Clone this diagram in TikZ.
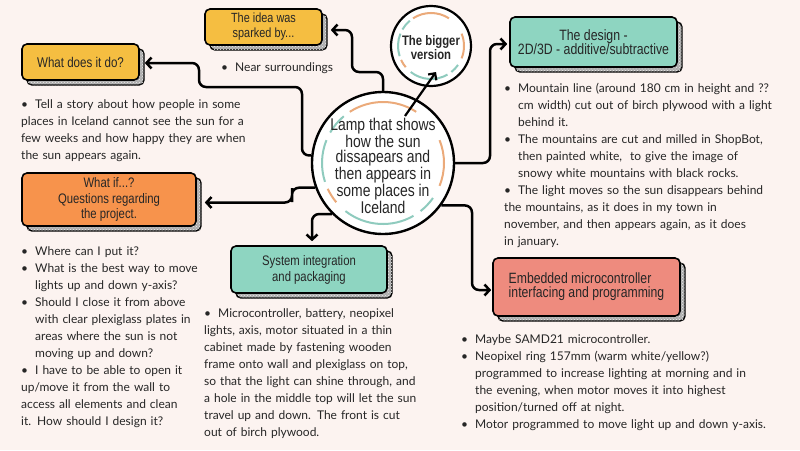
\documentclass[tikz,border=0pt]{standalone}
\usepackage{fontspec}
\setmainfont{Lato}
\newfontfamily\cond[FakeStretch=0.82]{Liberation Sans}
\usetikzlibrary{arrows.meta,calc,patterns}
\definecolor{bg}{HTML}{FCF3F0}
\definecolor{yel}{HTML}{F5BE41}
\definecolor{ora}{HTML}{F7934C}
\definecolor{tea}{HTML}{8ED5C1}
\definecolor{sal}{HTML}{EE8B7E}
\definecolor{txt}{HTML}{262626}
\definecolor{maroon}{HTML}{4A1515}
\definecolor{ringo}{HTML}{EBAA7A}
\definecolor{ringt}{HTML}{8FCBBE}
\newcommand\nl{\hfil\break}
\newcommand\bi{\par\hangindent=14pt\hangafter=1\noindent\makebox[14pt][l]{\textbullet}}
\newcommand\shadowedbox[8]{%
  \path[shadowbox] ({#2-#4/2+5},{#3-#5/2+5}) rectangle ++(#4,#5);
  \path[shadowpat] ({#2-#4/2+5},{#3-#5/2+5}) rectangle ++(#4,#5);
  \node[boxnode,fill=#6,minimum width=#4pt,minimum height=#5pt,font=#7] (#1) at (#2,#3) {#8};}
\newcommand\ringarcs[3]{%
  \foreach \a/\b/\col in {57/123/ringo,-22/22/ringo,205/220/ringo,130/150/ringt,158/198/ringt,232/300/ringt,308/325/ringt}{
    \pgfmathsetmacro\sa{-\a}\pgfmathsetmacro\ea{-\b}
    \draw[\col,line width=2pt] (#1,#2) ++(\sa:#3) arc[start angle=\sa,end angle=\ea,radius=#3];}}
\begin{document}
\begin{tikzpicture}[x=1pt,y=-1pt,
  boxnode/.style={draw=black,line width=1.6pt,rounded corners=5pt,inner sep=2pt,align=center,text=txt},
  shadowbox/.style={draw=black,line width=1.4pt,rounded corners=5pt,fill=gray!65},
  shadowpat/.style={rounded corners=5pt,pattern=crosshatch dots,pattern color=white!85!gray},
  conn/.style={draw=black,line width=2.5pt,rounded corners=7pt,-{Straight Barb[length=5pt,width=11pt]}},
  conntwo/.style={draw=black,line width=2.2pt,-{Straight Barb[length=5pt,width=10pt]}},
  bul/.style={anchor=north west,inner sep=0pt,text width=#1,align=left,font=\fontsize{12}{17}\selectfont,text=txt}]
\fill[bg] (0,0) rectangle (800,450);
\useasboundingbox (0,0) rectangle (800,450);

% boxes
\shadowedbox{idea}{263.5}{27}{117}{36}{yel}{\cond\fontsize{13.3}{15}\selectfont}{The idea was\\sparked by...}
\shadowedbox{what}{80.5}{62}{117}{36}{yel}{\cond\fontsize{14.1}{15}\selectfont}{What does it do?}
\shadowedbox{whatif}{109}{199.5}{174}{53}{ora}{\cond\fontsize{13.8}{15.5}\selectfont}{What if...?\\Questions regarding\\the project.\hspace*{0pt}}
\shadowedbox{design}{593.5}{42}{167}{50}{tea}{\cond\fontsize{15}{14}\selectfont}{The design -\\2D/3D - additive/subtractive}
\shadowedbox{sys}{309}{269.5}{156}{47}{tea}{\cond\fontsize{13.8}{16}\selectfont}{System integration\\and packaging}
\shadowedbox{emb}{586.5}{287}{187}{58}{sal}{\cond\fontsize{14.9}{14.5}\selectfont\color{maroon}}{\begin{tabular}{@{}l@{}}Embedded microcontroller\\[-1.5pt]interfacing and programming\end{tabular}}

% circles
\node[circle,draw=black,line width=2.4pt,fill=white,minimum size=142pt,inner sep=0pt] (c) at (383,163) {};
\ringarcs{383}{163}{61}
\node[align=center,text=txt,inner sep=0pt,font=\cond\fontsize{17}{15.4}\selectfont] (ctxt) at ($(c.center)+(0,3)$)
  {Lamp that shows\\how the sun\\dissapears and\\then appears in\\some places in\\Iceland};
\node[circle,draw=black,line width=2.2pt,fill=white,minimum size=80pt,inner sep=0pt] (big) at (431,46) {};
\ringarcs{431}{46}{33}
\node[align=center,text=txt,inner sep=0pt,font=\cond\bfseries\fontsize{13.8}{12.5}\selectfont] (bigtxt) at ($(big.center)+(0,2)$) {The bigger\\version};

% connectors
\draw[conn] (c.north) |- (352,72) |- ($(idea.east)+(8,3)$);
\draw[conn] (c.174) -| (302,87) -- (199,87) |- ($(what.east)+(5,1)$);
\draw[conn] (c.200) -| (292,195) |- ($(whatif.east)+(8,3)$);
\draw[conn] (c.225) -| ($(sys.north)+(3,-4)$);
\draw[conn] (c.east) -| (490,100) |- ($(design.west)+(-2,2)$);
\draw[conn] (c.-36) -| (472,250) |- ($(emb.west)+(-1,3)$);
\coordinate (gs) at (405,116);
\coordinate (ge) at ($(big.center)+(5,26)$);
\draw[conntwo] (gs) -- (ge);

% bullet texts
\node[bul=150pt] (tnear) at (221,54) {\bi\strut Near surroundings};
\node[bul=280pt] (twhat) at (21,91) {\bi\strut Tell a story about how people in some\nl places in Iceland cannot see the sun for a\nl few weeks and how happy they are when\nl the sun appears again.};
\node[bul=220pt] (twhatif) at (21,238) {\bi\strut Where can I put it?
\bi What is the best way to move\nl lights up and down y-axis?
\bi Should I close it from above\nl with clear plexiglass plates in\nl areas where the sun is not\nl moving up and down?
\bi I have to be able to open it\nl up/move it from the wall to\nl access all elements and clean\nl it. How should I design it?};
\node[bul=270pt] (tsys) at (204,300) {\bi\strut Microcontroller, battery, neopixel\nl lights, axis, motor situated in a thin\nl cabinet made by fastening wooden\nl frame onto wall and plexiglass on top,\nl so that the light can shine through, and\nl a hole in the middle top will let the sun\nl travel up and down. The front is cut\nl out of birch plywood.};
\node[bul=300pt] (tdesign) at (504,75) {\bi\strut Mountain line (around 180 cm in height and ??\nl cm width) cut out of birch plywood with a light\nl behind it.
\bi The mountains are cut and milled in ShopBot,\nl then painted white,\ \ to give the image of\nl snowy white mountains with black rocks.
\bi The light moves so the sun disappears behind\nl the mountains, as it does in my town in\nl november, and then appears again, as it does\nl in january.};
\node[bul=340pt] (temb) at (461,326) {\bi\strut Maybe SAMD21 microcontroller.
\bi Neopixel ring 157mm (warm white/yellow?)\nl programmed to increase lighting at morning and in\nl the evening, when motor moves it into highest\nl position/turned off at night.
\bi Motor programmed to move light up and down y-axis.};
\end{tikzpicture}
\end{document}
